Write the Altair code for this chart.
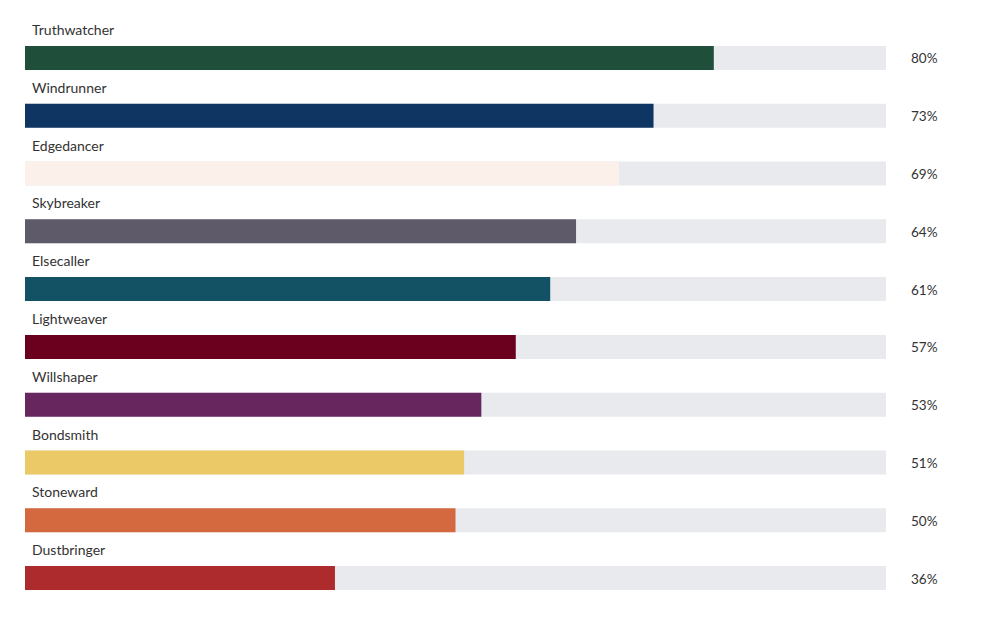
import altair as alt
import pandas as pd

orders = ["Truthwatcher", "Windrunner", "Edgedancer", "Skybreaker", "Elsecaller",
          "Lightweaver", "Willshaper", "Bondsmith", "Stoneward", "Dustbringer"]
values = [80, 73, 69, 64, 61, 57, 53, 51, 50, 36]
colors = ["#1f4f3a", "#0f3563", "#fbf0ea", "#5f5a69", "#135264",
          "#6a001e", "#68265f", "#ebc967", "#d4683f", "#ae2b2d"]

df = pd.DataFrame({"order": orders, "value": values, "full": [100] * len(orders),
                   "label": [f"{v}%" for v in values]})

FONT = "Lato"
y_enc = alt.Y("order:N", sort=orders, axis=None,
              scale=alt.Scale(paddingInner=0, paddingOuter=0))
x_scale = alt.Scale(domain=[0, 100], nice=False, zero=True)

base = alt.Chart(df)

bg = base.mark_bar(size=24, yOffset=12, color="#e8eaed").encode(
    x=alt.X("full:Q", scale=x_scale, axis=None), y=y_enc)

bars = base.mark_bar(size=24, yOffset=12).encode(
    x=alt.X("value:Q", scale=x_scale, axis=None), y=y_enc,
    color=alt.Color("order:N", scale=alt.Scale(domain=orders, range=colors), legend=None))

names = base.mark_text(align="left", baseline="alphabetic", yOffset=-11,
                       font=FONT, fontSize=14, color="#333333").encode(
    x=alt.value(7), y=y_enc, text="order:N")

pct = base.mark_text(align="left", baseline="middle", yOffset=13.5,
                     font=FONT, fontSize=13.5, color="#333333").encode(
    x=alt.value(886), y=y_enc, text="label:N")

chart = alt.layer(bg, bars, names, pct).properties(
    width=861, height=578,
    padding={"left": 25, "top": 17, "right": 114, "bottom": 23},
    autosize=alt.AutoSizeParams(type="none"),
).configure_view(stroke=None)

chart.save("out.html", embed_options={"renderer": "svg", "actions": False})
